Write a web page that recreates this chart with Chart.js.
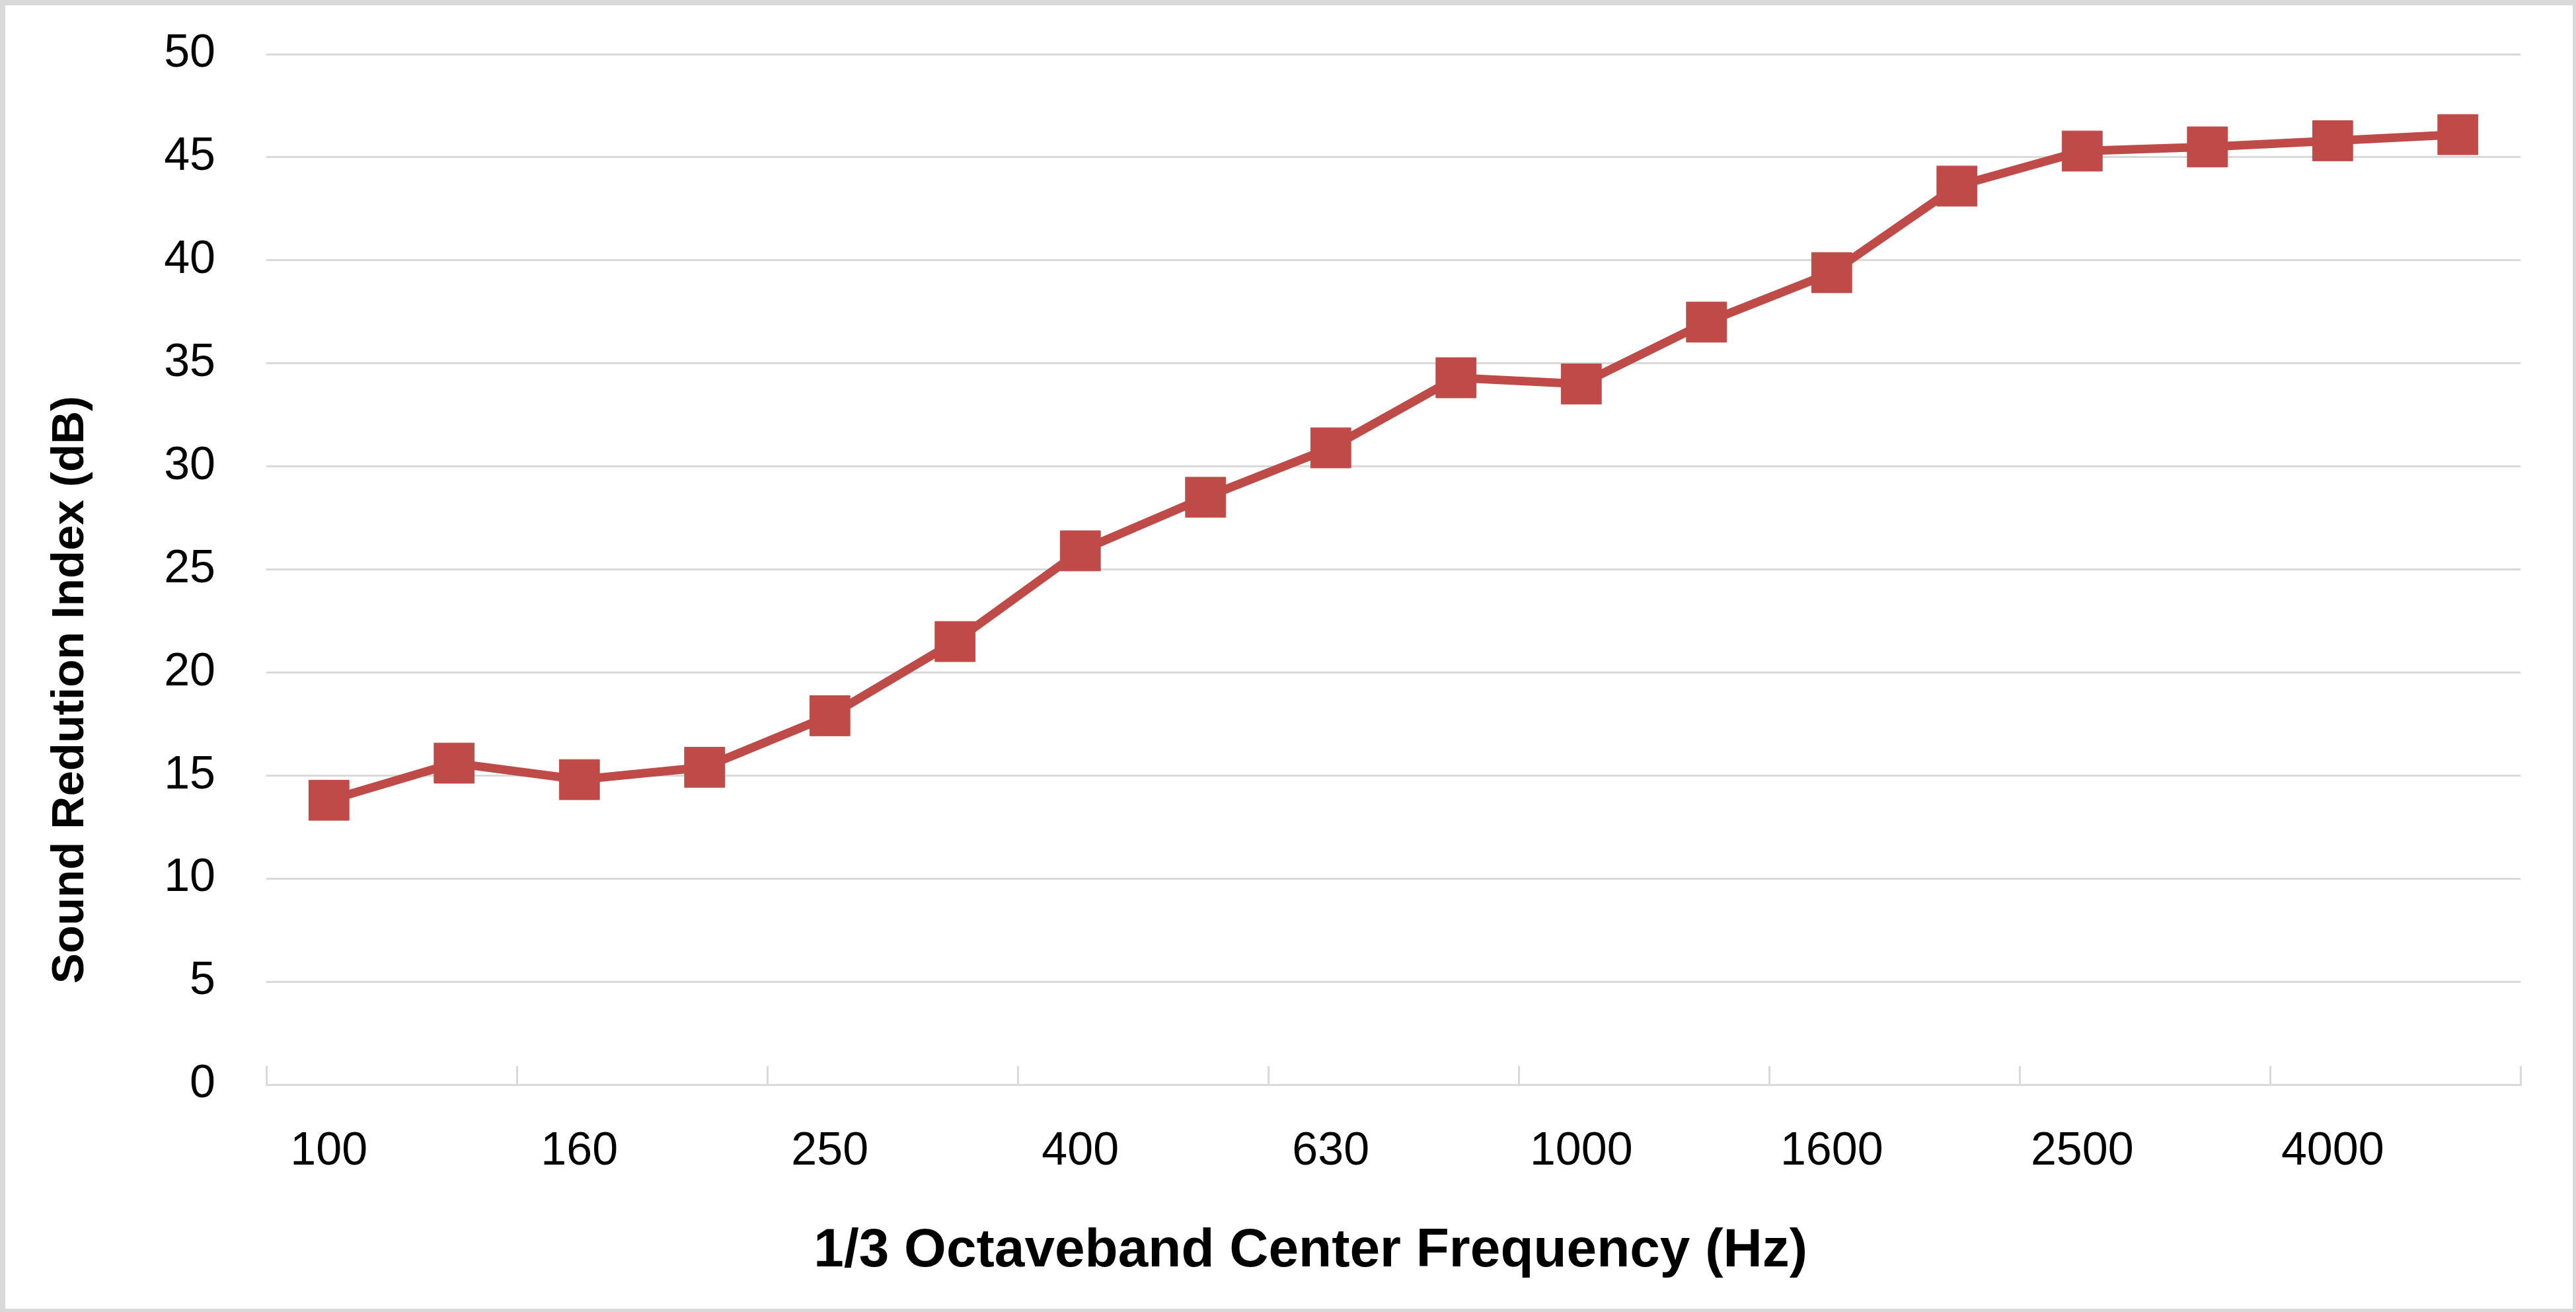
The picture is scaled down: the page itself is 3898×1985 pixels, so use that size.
<!DOCTYPE html>
<html>
<head>
<meta charset="utf-8">
<script src="https://cdn.jsdelivr.net/npm/chart.js@4.4.0/dist/chart.umd.min.js"></script>
<style>
  html, body { margin: 0; padding: 0; background: #fff; }
  #wrap { position: relative; width: 3898px; height: 1985px; }
  #frame {
    position: absolute; left: 0; top: 0; width: 3898px; height: 1985px;
    box-sizing: border-box; border-style: solid; border-color: #d9d9d9;
    border-width: 8px 5px 5px 8px; pointer-events: none;
  }
</style>
</head>
<body>
<div id="wrap">
  <canvas id="srChart" width="3898" height="1985"></canvas>
  <div id="frame"></div>
</div>
<script>
// 1/3 octave band centre frequencies (Hz)
const frequencies = ["100", "125", "160", "200", "250", "315", "400", "500", "630",
                     "800", "1000", "1250", "1600", "2000", "2500", "3150", "4000", "5000"];

// sound reduction index (dB)
const reductionIndex = [13.8, 15.6, 14.8, 15.4, 17.9, 21.5, 25.9, 28.5, 30.9,
                        34.3, 34.0, 37.0, 39.4, 43.6, 45.3, 45.5, 45.8, 46.1];

const yMin = 0;
const yMax = 50;
const yStep = 5;

const lineColor = "#BE4B48";
const gridColor = "#d9d9d9";

Chart.defaults.font.family = "'Liberation Sans', Arial, sans-serif";
Chart.defaults.color = "#000";

const ctx = document.getElementById("srChart");

new Chart(ctx, {
    type: "line",
    data: {
        labels: frequencies,
        datasets: [{
            label: "Sound Redution Index",
            data: reductionIndex,
            borderColor: lineColor,
            backgroundColor: lineColor,
            borderWidth: 13,
            tension: 0,
            fill: false,
            pointStyle: "rect",
            pointRadius: 43,
            pointBorderWidth: 1,
            pointBorderColor: lineColor,
            pointBackgroundColor: lineColor
        }]
    },
    options: {
        responsive: false,
        animation: false,
        devicePixelRatio: 1,
        layout: { padding: { top: 82, right: 84, bottom: 0, left: 0 } },
        plugins: {
            legend: { display: false },
            tooltip: { enabled: false }
        },
        scales: {
            x: {
                offset: true,
                afterFit: function (scale) { scale.height = 344; },
                grid: {
                    offset: true,
                    drawOnChartArea: false,
                    drawTicks: true,
                    tickLength: -28,
                    lineWidth: 3,
                    color: function (c) {
                        return (c.index === undefined || c.index % 2 === 0) ? gridColor : "rgba(0,0,0,0)";
                    }
                },
                border: { display: true, color: gridColor, width: 3 },
                ticks: {
                    autoSkip: false,
                    maxRotation: 0,
                    padding: 88,
                    font: { size: 70 },
                    callback: function (value, index) {
                        return index % 2 === 0 ? frequencies[index] : "";
                    }
                },
                title: {
                    display: true,
                    text: "1/3 Octaveband Center Frequency (Hz)" + "\u00a0".repeat(11),
                    font: { size: 82, weight: "bold" },
                    padding: { top: 0, bottom: 42 }
                }
            },
            y: {
                min: yMin,
                max: yMax,
                afterFit: function (scale) { scale.width = 403; },
                grid: {
                    color: gridColor,
                    lineWidth: 3,
                    drawTicks: true,
                    tickLength: 70,
                    tickColor: "rgba(0,0,0,0)"
                },
                border: { display: false },
                ticks: {
                    stepSize: yStep,
                    padding: 7,
                    font: { size: 70 }
                },
                title: {
                    display: true,
                    text: "Sound Redution Index (dB)" + "\u00a0".repeat(19),
                    font: { size: 69, weight: "bold" },
                    padding: { top: 66, bottom: 0 }
                }
            }
        }
    }
});
</script>
</body>
</html>
